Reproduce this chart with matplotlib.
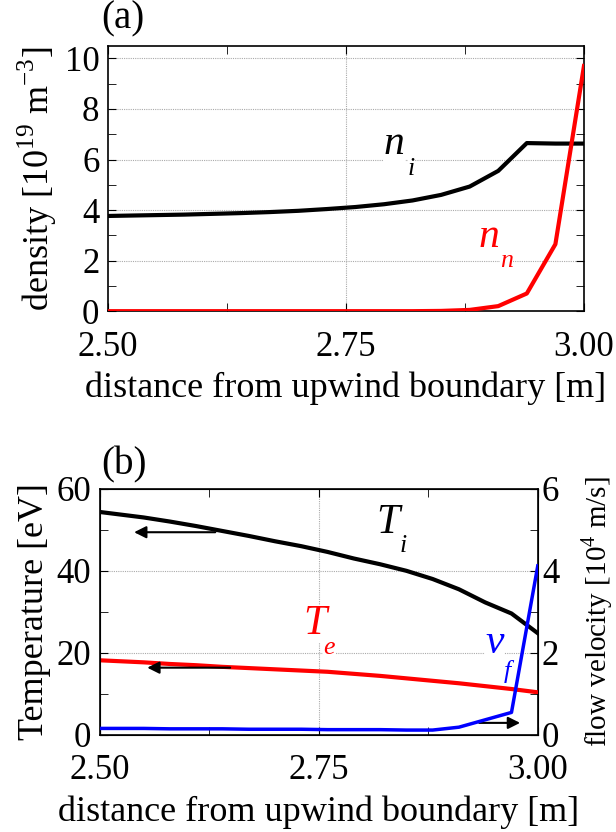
import matplotlib
matplotlib.use("Agg")
import matplotlib.pyplot as plt
from matplotlib.ticker import MultipleLocator

plt.rcParams['font.family'] = ['Liberation Serif', 'DejaVu Serif']
plt.rcParams['mathtext.fontset'] = 'custom'
plt.rcParams['mathtext.rm'] = 'Liberation Serif'

# grid points (spacing 0.03 from the boundary at 3.00)
x = [2.49, 2.52, 2.55, 2.58, 2.61, 2.64, 2.67, 2.70, 2.73,
     2.76, 2.79, 2.82, 2.85, 2.88, 2.91, 2.94, 2.97, 3.00]

# (a) densities [1e19 m^-3]
n_i = [3.76, 3.78, 3.80, 3.82, 3.85, 3.88, 3.92, 3.97, 4.04,
       4.12, 4.23, 4.38, 4.60, 4.93, 5.55, 6.65, 6.63, 6.63]
n_n = [0.0, 0.0, 0.0, 0.0, 0.0, 0.0, 0.0, 0.0, 0.0,
       0.0, 0.0, 0.0, 0.01, 0.05, 0.20, 0.70, 2.65, 9.70]

# (b) temperatures [eV] and flow velocity [1e4 m/s]
T_i = [54.6, 53.8, 53.0, 52.0, 50.9, 49.7, 48.5, 47.2, 46.0,
       44.6, 43.0, 41.6, 40.0, 38.0, 35.5, 32.3, 29.6, 24.8]
T_e = [18.3, 18.0, 17.7, 17.3, 17.0, 16.6, 16.3, 16.0, 15.7,
       15.4, 14.9, 14.4, 13.8, 13.2, 12.6, 11.9, 11.2, 10.4]
v_f = [0.16, 0.16, 0.16, 0.15, 0.15, 0.15, 0.14, 0.14, 0.14,
       0.13, 0.13, 0.13, 0.12, 0.12, 0.19, 0.37, 0.55, 4.12]

x_ticks = [2.50, 2.75, 3.00]
x_labels = ["2.50", "2.75", "3.00"]
xlabel = "distance from upwind boundary [m]"

FS = 25
grid_kw = dict(color='#aaaaaa', linestyle=(0, (1, 1)), linewidth=0.8)
box_kw = dict(facecolor='white', edgecolor='none', pad=0.0)


def style_axis(ax):
    ax.set_xlim(2.5, 3.0)
    ax.set_xticks(x_ticks)
    ax.set_xticklabels(x_labels)
    ax.xaxis.set_minor_locator(MultipleLocator(0.125))
    ax.tick_params(which='both', direction='in', top=True, labelsize=FS, pad=14)
    ax.tick_params(which='major', length=6)
    ax.tick_params(which='minor', length=6)
    for s in ax.spines.values():
        s.set_linewidth(1.2)
    ax.set_xlabel(xlabel, fontsize=26, labelpad=6)


def label(ax, x0, y0, main, sub, color, dx, dy, size=30):
    # italic symbol with a dropped subscript, as in the original figure
    ax.text(x0, y0, main, fontsize=size, style='italic', color=color,
            ha='left', va='baseline', bbox=box_kw, zorder=5)
    ax.text(x0 + dx, y0 - dy, sub, fontsize=size * 0.62, style='italic',
            color=color, ha='left', va='baseline', bbox=box_kw, zorder=5)


fig = plt.figure(figsize=(6.16, 8.32), dpi=100)

# ---- panel (a)
ax1 = fig.add_axes([0.175, 0.626, 0.773, 0.319])
ax1.axvline(2.75, zorder=0, **grid_kw)
for yv in [2, 4, 6, 8, 10]:
    ax1.axhline(yv, zorder=0, **grid_kw)
ax1.plot(x, n_i, color='black', lw=3, zorder=3)
ax1.plot(x, n_n, color='#ff0000', lw=3, zorder=3)
ax1.set_ylim(0, 10.5)
ax1.yaxis.set_major_locator(MultipleLocator(2))
ax1.yaxis.set_minor_locator(MultipleLocator(1))
style_axis(ax1)
ax1.tick_params(which='both', right=True)
ax1.tick_params(axis='y', pad=6)
ax1.set_ylabel(r"density [10$^{19}$ m$^{-3}$]", fontsize=26, labelpad=4)
label(ax1, 2.790, 6.2, "n", "i", 'black', 0.025, 0.8)
label(ax1, 2.889, 2.55, "n", "n", '#ff0000', 0.023, 0.8)
fig.text(0.165, 0.977, "(a)", fontsize=28, ha='left', va='center')

# ---- panel (b)
ax2 = fig.add_axes([0.162, 0.1166, 0.711, 0.296])
ax2.axvline(2.75, zorder=0, **grid_kw)
for yv in [20, 40]:
    ax2.axhline(yv, zorder=0, **grid_kw)
ax2.plot(x, T_i, color='black', lw=3, zorder=3)
ax2.plot(x, T_e, color='#ff0000', lw=3, zorder=3)
ax2.set_ylim(0, 60)
ax2.yaxis.set_major_locator(MultipleLocator(20))
ax2.yaxis.set_minor_locator(MultipleLocator(10))
style_axis(ax2)
ax2.tick_params(axis='y', pad=6)
ax2.set_ylabel("Temperature [eV]", fontsize=26, labelpad=4)

ax3 = ax2.twinx()
ax3.plot(x, v_f, color='#0000ff', lw=2.5, zorder=3)
ax3.set_ylim(0, 6)
ax3.yaxis.set_major_locator(MultipleLocator(2))
ax3.yaxis.set_minor_locator(MultipleLocator(1))
ax3.tick_params(which='both', direction='in', length=6, labelsize=FS, pad=3)
ax3.set_ylabel(r"flow velocity [10$^{4}$ m/s]", fontsize=21, labelpad=14)

label(ax2, 2.816, 49.3, "T", "i", 'black', 0.026, 4.8)
label(ax2, 2.732, 24.6, "T", "e", '#ff0000', 0.023, 4.8)
label(ax3, 2.940, 2.0, "v", "f", '#0000ff', 0.021, 0.6)

arrow_kw = dict(arrowstyle='-|>', color='black', lw=1.5, mutation_scale=18)
ax2.annotate("", xy=(2.536, 49.4), xytext=(2.635, 49.4), arrowprops=arrow_kw, zorder=6)
ax2.annotate("", xy=(2.551, 16.4), xytext=(2.652, 16.4), arrowprops=arrow_kw, zorder=6)
ax2.annotate("", xy=(2.983, 2.95), xytext=(2.93, 2.95), arrowprops=arrow_kw, zorder=6)
fig.text(0.165, 0.441, "(b)", fontsize=28, ha='left', va='center')

fig.savefig("out.png", dpi=100)
